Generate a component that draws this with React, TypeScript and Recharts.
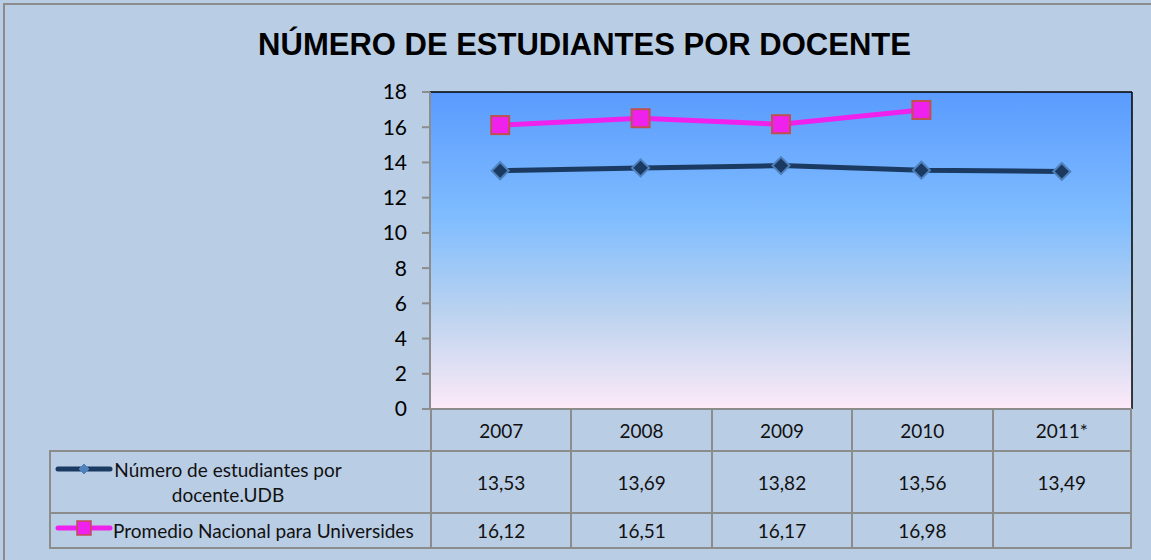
import { ComposedChart, Line, XAxis, YAxis, CartesianGrid } from "recharts";

const YEARS = ["2007", "2008", "2009", "2010", "2011*"];
const UDB = [13.53, 13.69, 13.82, 13.56, 13.49];
const NACIONAL: (number | null)[] = [16.12, 16.51, 16.17, 16.98, null];
const Y_TICKS = [0, 2, 4, 6, 8, 10, 12, 14, 16, 18];
const NAME_UDB = "Número de estudiantes por docente.UDB";
const NAME_NAC = "Promedio Nacional para Universides";
const TITLE = "NÚMERO DE ESTUDIANTES POR DOCENTE";

const W = 1151;
const H = 560;
const BG = "#B9CDE5";
const GRID = "#8C8C8C";
const NAVY = "#1B3A62";
const MAGENTA = "#EE22EC";
const FONT = "Lato, 'Liberation Sans', sans-serif";

const rows = YEARS.map((y, i) => ({ year: y, udb: UDB[i], nac: NACIONAL[i] }));
const fmt = (v: number | null) => (v == null ? "" : v.toFixed(2).replace(".", ","));

function Diamond(p: any) {
  const { cx, cy } = p;
  if (cx == null || cy == null) return <g />;
  const r = 8.5;
  return (
    <polygon
      points={`${cx},${cy - r} ${cx + r},${cy} ${cx},${cy + r} ${cx - r},${cy}`}
      fill={NAVY}
      stroke="#4F81BD"
      strokeWidth={2}
    />
  );
}

function Square(p: any) {
  const { cx, cy, value } = p;
  if (cx == null || cy == null || value == null) return <g />;
  return <rect x={cx - 9} y={cy - 9} width={18} height={18} fill={MAGENTA} stroke="#C0504D" strokeWidth={2} />;
}

function Key({ kind }: { kind: "udb" | "nac" }) {
  const color = kind === "udb" ? NAVY : MAGENTA;
  return (
    <svg width={58} height={16} style={{ display: "block", flex: "none" }}>
      <line x1={3} y1={8} x2={55} y2={8} stroke={color} strokeWidth={5} strokeLinecap="round" />
      {kind === "udb" ? (
        <polygon points="29,3 34,8 29,13 24,8" fill="#4F81BD" stroke="#4F81BD" strokeWidth={1} />
      ) : (
        <rect x={22} y={1} width={14} height={14} fill={MAGENTA} stroke="#C0504D" strokeWidth={1.5} />
      )}
    </svg>
  );
}

function DataTable() {
  const cols = ["", ...YEARS];
  const body = [
    { kind: "udb" as const, name: NAME_UDB, values: UDB as (number | null)[] },
    { kind: "nac" as const, name: NAME_NAC, values: NACIONAL },
  ];
  const line = `2px solid ${GRID}`;
  const cell = (r: number, c: number): React.CSSProperties => ({
    boxSizing: "border-box",
    borderTop: r === 0 && c === 0 ? "none" : line,
    borderLeft: r === 0 && c === 0 ? "none" : line,
    borderRight: c === cols.length - 1 ? line : "none",
    borderBottom: r === 2 ? line : "none",
    display: "flex",
    alignItems: "center",
    justifyContent: "center",
    fontSize: 19,
    color: "#111",
  });
  return (
    <div
      style={{
        position: "absolute",
        left: 49,
        top: 408,
        display: "grid",
        gridTemplateColumns: `381px repeat(${YEARS.length}, 140.4px)`,
        gridTemplateRows: "42px 62px 37px",
        fontFamily: FONT,
      }}
    >
      {cols.map((c, i) => (
        <div key={"h" + i} style={cell(0, i)}>
          {c}
        </div>
      ))}
      {body.map((row, r) => [
        <div
          key={"n" + r}
          style={{
            ...cell(r + 1, 0),
            justifyContent: "flex-start",
            alignItems: r === 0 ? "flex-start" : "center",
            paddingLeft: 4,
            paddingTop: r === 0 ? 5 : 0,
          }}
        >
          <div style={{ display: "flex", alignItems: "flex-start" }}>
            <div style={{ marginTop: r === 0 ? 4 : 2 }}>
              <Key kind={row.kind} />
            </div>
            <div
              style={{
                maxWidth: row.kind === "udb" ? 230 : undefined,
                whiteSpace: row.kind === "udb" ? "normal" : "nowrap",
                textAlign: "center",
                lineHeight: "25px",
              }}
            >
              {row.name}
            </div>
          </div>
        </div>,
        ...row.values.map((v, i) => (
          <div key={"v" + r + i} style={cell(r + 1, i + 1)}>
            {fmt(v)}
          </div>
        )),
      ])}
    </div>
  );
}

export default function App() {
  return (
    <div style={{ position: "absolute", left: 0, top: 0, width: W, height: H, background: BG, overflow: "hidden" }}>
      <div
        style={{
          position: "absolute",
          left: 3,
          top: 3,
          width: W,
          height: H,
          borderLeft: `2px solid ${GRID}`,
          borderTop: `2px solid ${GRID}`,
        }}
      />
      <div
        style={{
          position: "absolute",
          left: 14,
          width: W - 10,
          top: 27,
          textAlign: "center",
          fontFamily: "'Liberation Sans', Arial, sans-serif",
          fontWeight: 700,
          fontSize: 31,
          color: "#000",
        }}
      >
        {TITLE}
      </div>
      <div style={{ position: "absolute", left: 0, top: 0 }}>
        <ComposedChart width={W} height={H} data={rows} margin={{ top: 91, right: 18, bottom: 151, left: 0 }}>
          <defs>
            <linearGradient id="plotBg" x1="0" y1="0" x2="0" y2="1">
              <stop offset="0%" stopColor="#5A9BFE" />
              <stop offset="40%" stopColor="#80BDFF" />
              <stop offset="70%" stopColor="#BCD3EF" />
              <stop offset="100%" stopColor="#FDEAF8" />
            </linearGradient>
          </defs>
          <CartesianGrid horizontal={false} vertical={false} fill="url(#plotBg)" stroke="none" />
          <XAxis
            dataKey="year"
            scale="band"
            height={0}
            tick={false}
            tickLine={false}
            axisLine={{ stroke: GRID, strokeWidth: 2 }}
          />
          <XAxis
            xAxisId="top"
            dataKey="year"
            orientation="top"
            height={1}
            tick={false}
            tickLine={false}
            axisLine={{ stroke: "#000", strokeWidth: 1.5 }}
          />
          <YAxis
            width={430}
            domain={[0, 18]}
            ticks={Y_TICKS}
            interval={0}
            tickSize={8}
            tickMargin={15}
            tickLine={{ stroke: GRID, strokeWidth: 2 }}
            axisLine={{ stroke: GRID, strokeWidth: 2 }}
            tick={{ fill: "#000", fontSize: 21, fontFamily: FONT }}
          />
          <YAxis
            yAxisId="right"
            orientation="right"
            width={1}
            domain={[0, 18]}
            tick={false}
            tickLine={false}
            axisLine={{ stroke: "#000", strokeWidth: 1.5 }}
          />
          <Line
            dataKey="udb"
            name={NAME_UDB}
            stroke={NAVY}
            strokeWidth={5}
            dot={<Diamond />}
            activeDot={false}
            isAnimationActive={false}
          />
          <Line
            dataKey="nac"
            name={NAME_NAC}
            stroke={MAGENTA}
            strokeWidth={5}
            dot={<Square />}
            activeDot={false}
            isAnimationActive={false}
          />
        </ComposedChart>
      </div>
      <DataTable />
    </div>
  );
}
